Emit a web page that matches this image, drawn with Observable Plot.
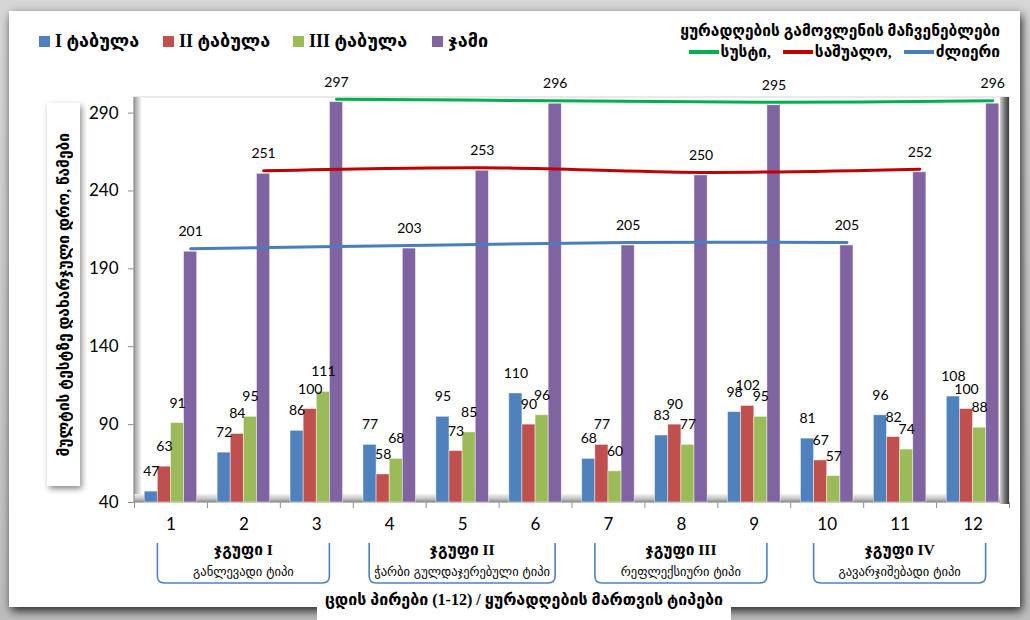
<!DOCTYPE html>
<html>
<head>
<meta charset="utf-8">
<script src="https://cdn.jsdelivr.net/npm/d3@7"></script>
<script src="https://cdn.jsdelivr.net/npm/@observablehq/plot@0.6"></script>
<style>
  html, body { margin: 0; padding: 0; background: #fff; }
  #wrap { position: relative; width: 1030px; height: 620px; overflow: hidden;
          background: linear-gradient(#d6d6d6, #bdbdbd); }
  #card { position: absolute; left: 9px; top: 11px; width: 1011px; height: 596px; background: #fff;
          box-shadow: 2px 4px 9px rgba(0,0,0,0.8); }
  #chart { position: absolute; left: 0; top: 0; }
  .geo { font-family: "Liberation Serif", "DejaVu Sans", sans-serif; font-weight: bold; color: #000; }
  #legend1 { position: absolute; left: 39px; top: 30px; display: flex; font-size: 18px; white-space: nowrap; }
  #legend1 .item { display: flex; align-items: center; }
  #legend1 .sw { width: 11px; height: 11px; margin-right: 5px; flex: none; }
  #legend2 { position: absolute; right: 30px; top: 22px; text-align: right; font-size: 15.5px; white-space: nowrap; }
  #legend2 .row { display: flex; justify-content: flex-end; align-items: center; margin-top: 3px; }
  #legend2 .ln { width: 30px; height: 4px; margin: 0 2px 0 12px; }
  #ytitle { position: absolute; left: 47px; top: 103px; width: 33px; height: 383px; background: #fff;
            box-shadow: 2px 3px 6px rgba(0,0,0,0.45); display: flex; align-items: center; justify-content: center; }
  #ytitle span { writing-mode: vertical-rl; transform: rotate(180deg); font-size: 15.5px; white-space: nowrap; }
  #xtitle { position: absolute; left: 317px; top: 588px; width: 414px; height: 40px; background: #fff;
            font-size: 16px; text-align: center; line-height: 24px; white-space: nowrap; }
</style>
</head>
<body>
<div id="wrap">
  <div id="card"></div>
  <div id="chart"></div>
  <div id="legend1" class="geo"></div>
  <div id="legend2" class="geo"></div>
  <div id="ytitle" class="geo"><span>მულტის ტესტზე დახარჯული დრო, წამები</span></div>
  <div id="xtitle" class="geo">ცდის პირები (1-12) / ყურადღების მართვის ტიპები</div>
</div>
<script>
// Test subjects 1–12 and their times (seconds) on three tables plus the total
const cases  = [1, 2, 3, 4, 5, 6, 7, 8, 9, 10, 11, 12];
const table1 = [47, 72, 86, 77, 95, 110, 68, 83, 98, 81, 96, 108];
const table2 = [63, 84, 100, 58, 73, 90, 77, 90, 102, 67, 82, 100];
const table3 = [91, 95, 111, 68, 85, 96, 60, 77, 95, 57, 74, 88];
const total  = [201, 251, 297, 203, 253, 296, 205, 250, 295, 205, 252, 296];

const seriesNames  = ["I ტაბულა", "II ტაბულა", "III ტაბულა", "ჯამი"];
const seriesColors = ["#4F81BD", "#C0504D", "#9BBB59", "#8064A2"];

// Attention level lines, each joining the totals of its subjects
const levelNames  = ["სუსტი,", "საშუალო,", "ძლიერი"];
const levelColors = ["#00B050", "#C00000", "#4A7EBB"];
const levelCases  = [[3, 6, 9, 12], [2, 5, 8, 11], [1, 4, 7, 10]];

// Groups of subjects by attention control type
const groupNames = ["ჯგუფი I", "ჯგუფი II", "ჯგუფი III", "ჯგუფი IV"];
const groupTypes = ["განლევადი ტიპი", "ჭარბი გულდაჯერებული ტიპი", "რეფლექსიური ტიპი", "გავარჯიშებადი ტიპი"];
const groupCases = [[1, 2, 3], [4, 5, 6], [7, 8, 9], [10, 11, 12]];

const yTicks = [40, 90, 140, 190, 240, 290];

// Legends
d3.select("#legend1").selectAll(".item").data(seriesNames).join("div")
  .attr("class", "item")
  .style("width", (d, i) => ["124px", "130px", "139px", "auto"][i])
  .html((d, i) => `<span class="sw" style="background:${seriesColors[i]}"></span><span>${d}</span>`);
const lg2 = d3.select("#legend2");
lg2.append("div").text("ყურადღების გამოვლენის მაჩვენებლები");
const row2 = lg2.append("div").attr("class", "row");
levelNames.forEach((n, i) => {
  row2.append("span").attr("class", "ln").style("background", levelColors[i]);
  row2.append("span").text(n);
});

// Long-format rows for the grouped bars
const rows = [];
const seriesValues = [table1, table2, table3, total];
cases.forEach((c, i) => seriesValues.forEach((vals, k) =>
  rows.push({ case: c, k, series: seriesNames[k], value: vals[i] })));

const BAR = 0.18, START = -0.36;
const barX1 = d => d.case + START + d.k * BAR;
const barX2 = d => d.case + START + (d.k + 1) * BAR;
const barXc = d => d.case + START + (d.k + 0.5) * BAR;

// One smoothed line per attention level, through the total bars of its subjects
const levelLines = levelCases.map((cs, li) =>
  Plot.line(cs.map(c => ({ x: c + START + 3.5 * BAR, value: total[c - 1] })),
    { x: "x", y: "value", stroke: levelColors[li], strokeWidth: 3, curve: "catmull-rom", dy: -3 }));

const chart = Plot.plot({
  width: 1030, height: 620,
  marginLeft: 134, marginRight: 21, marginTop: 97, marginBottom: 118,
  style: { background: "transparent", fontFamily: "Lato, 'Open Sans', sans-serif", color: "#000" },
  x: { domain: [0.5, 12.5] },
  y: { domain: [40, 300] },
  color: { domain: seriesNames, range: seriesColors },
  marks: [
    Plot.axisY({ ticks: yTicks, tickSize: 6, tickPadding: 10, fontSize: 17, label: null, stroke: "#8c8c8c" }),
    Plot.axisX({ ticks: d3.range(0.5, 13, 1), tickSize: 6, tickFormat: () => "", label: null, stroke: "#8c8c8c" }),
    Plot.axisX({ ticks: cases, tickSize: 0, tickPadding: 15, fontSize: 17, label: null }),
    Plot.rect(rows, { x1: barX1, x2: barX2, y1: 40, y2: "value", fill: "series",
                      stroke: "#fff", strokeOpacity: 0.55, strokeWidth: 0.8 }),
    ...levelLines,
    Plot.text(rows, { x: barXc, y: "value", text: "value", dy: -20, fontSize: 14 })
  ]
});
document.getElementById("chart").appendChild(chart);

const svg = d3.select(chart);
const xs = chart.scale("x").apply, ys = chart.scale("y").apply;
const L = xs(0.5), R = xs(12.5), T = ys(300), B = ys(40);

// 3D frame: walls and floor behind the bars
const defs = svg.insert("defs", ":first-child");
const grad = (id, x2, y2, stops) => {
  const g = defs.append("linearGradient").attr("id", id).attr("x1", 0).attr("y1", 0).attr("x2", x2).attr("y2", y2);
  stops.forEach(([o, c]) => g.append("stop").attr("offset", o).attr("stop-color", c));
};
grad("floor", 0, 1, [[0, "#f2f2f2"], [0.55, "#c8c8c8"], [1, "#8f8f8f"]]);
grad("lwall", 1, 0, [[0, "#9a9a9a"], [1, "#ffffff"]]);
grad("rwall", 1, 0, [[0, "#d0d0d0"], [0.5, "#7a7a7a"], [1, "#3a3a3a"]]);
const back = svg.insert("g", "g[aria-label='rect']");
back.append("rect").attr("x", L).attr("y", T).attr("width", R - L).attr("height", B - T)
  .attr("fill", "none").attr("stroke", "#d6d6d6");
back.append("rect").attr("x", L).attr("y", T).attr("width", 8).attr("height", B - T).attr("fill", "url(#lwall)");
back.append("rect").attr("x", L).attr("y", B - 8).attr("width", R - L).attr("height", 8).attr("fill", "url(#floor)");
back.append("line").attr("x1", L).attr("x2", L).attr("y1", T).attr("y2", B).attr("stroke", "#8c8c8c");
back.append("line").attr("x1", L).attr("x2", R).attr("y1", B).attr("y2", B).attr("stroke", "#8c8c8c");
svg.insert("rect", "g[aria-label='line']").attr("x", R - 9).attr("y", T).attr("width", 9).attr("height", B - T + 2)
  .attr("fill", "url(#rwall)");

// Group brackets with their names and types
const ann = svg.append("g").attr("font-family", "'Liberation Serif', 'DejaVu Sans', sans-serif").attr("text-anchor", "middle");
groupCases.forEach((cs, gi) => {
  const cx = xs(cs[1]);
  ann.append("text").attr("x", cx).attr("y", 550).attr("dy", "0.35em")
    .attr("font-weight", "bold").attr("font-size", 15.5).text(groupNames[gi]);
  const t = ann.append("text").attr("x", cx).attr("y", 572).attr("dy", "0.35em")
    .attr("font-size", 12.5).attr("font-family", "'DejaVu Sans', sans-serif").text(groupTypes[gi]);
  const w = Math.max(172, t.node().getComputedTextLength() + 10);
  const l = cx - w / 2, r = cx + w / 2, top = 543, bot = 583, rad = 7;
  ann.append("path")
    .attr("d", `M${l},${top}V${bot - rad}Q${l},${bot} ${l + rad},${bot}H${r - rad}Q${r},${bot} ${r},${bot - rad}V${top}`)
    .attr("fill", "none").attr("stroke", "#4F81BD").attr("stroke-width", 1.6);
});
</script>
</body>
</html>
